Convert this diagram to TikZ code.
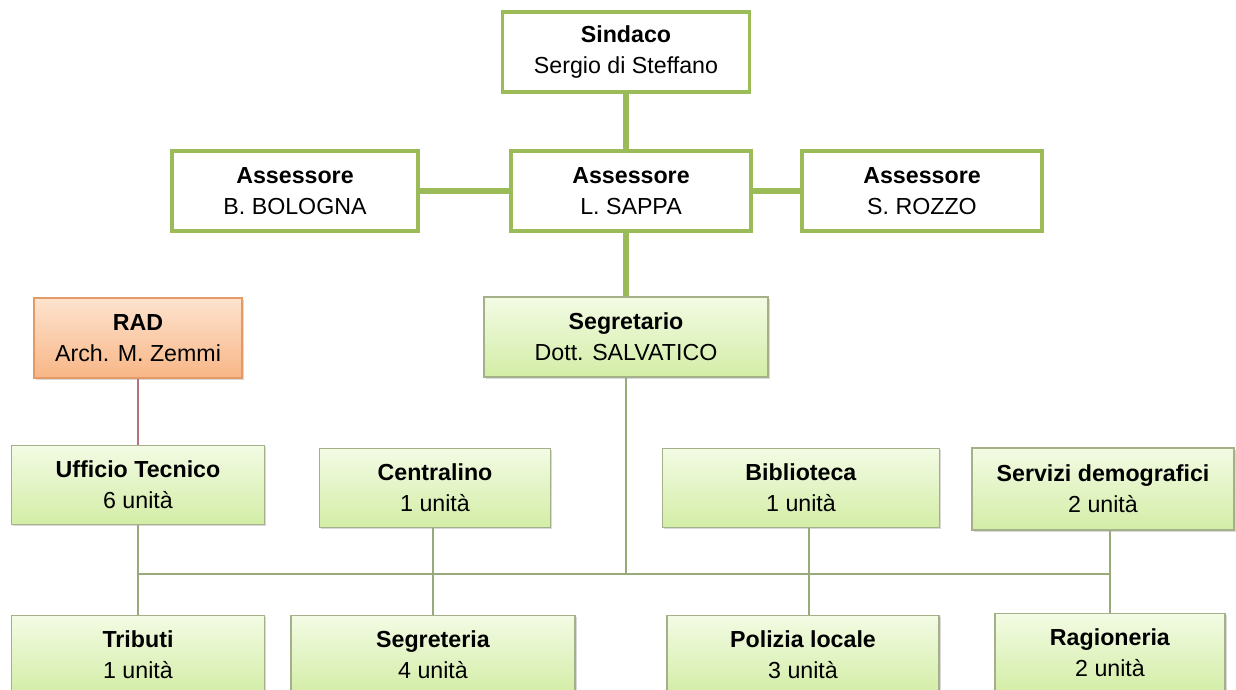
\documentclass[tikz,border=0pt]{standalone}
\usepackage{fontspec}
\setmainfont{Liberation Sans}
\usetikzlibrary{shadows}

\definecolor{officegreen}{HTML}{9BBB59}
\definecolor{linkgreen}{HTML}{98A97A}
\definecolor{unitborder}{HTML}{A3B08A}
\definecolor{unittop}{HTML}{F3FBE4}
\definecolor{unitbottom}{HTML}{D3EDA6}
\definecolor{radtop}{HTML}{FDE3CE}
\definecolor{radbottom}{HTML}{F8B686}
\definecolor{radborder}{HTML}{E39A66}
\definecolor{radlink}{HTML}{B57479}

\begin{document}
\begin{tikzpicture}[x=0.025cm, y=-0.025cm,
    every node/.style={font=\fontsize{16.5}{22}\selectfont, align=center, inner sep=0pt},
    topbox/.style={draw=officegreen, line width=2.2pt, fill=white, minimum height=2cm,
        drop shadow={opacity=0.25, shadow xshift=1pt, shadow yshift=-1pt}},
    unitbox/.style={draw=unitborder, line width=0.8pt, top color=unittop, bottom color=unitbottom,
        minimum height=1.97cm, drop shadow={opacity=0.3, shadow xshift=1.2pt, shadow yshift=-1.2pt}},
    radbox/.style={draw=radborder, line width=0.8pt, top color=radtop, bottom color=radbottom,
        minimum height=2cm, drop shadow={opacity=0.3, shadow xshift=1.2pt, shadow yshift=-1.2pt}},
    biglink/.style={draw=officegreen, line width=3.6pt},
    link/.style={draw=linkgreen, line width=1.6pt},
    radline/.style={draw=radlink, line width=1.2pt}]

    \useasboundingbox (0,0) rectangle (1236,690);
    \clip (0,0) rectangle (1236,690);

    % Sindaco and assessori
    \node[topbox, minimum width=6.175cm] (sindaco) at (626,52) {\textbf{Sindaco}\\Sergio di Steffano};
    \node[topbox, minimum width=6.15cm] (bologna) at (295,191) {\textbf{Assessore}\\B. BOLOGNA};
    \node[topbox, minimum width=6cm] (sappa) at (631,191) {\textbf{Assessore}\\L. SAPPA};
    \node[topbox, minimum width=6cm] (rozzo) at (922,191) {\textbf{Assessore}\\S. ROZZO};

    % RAD and segretario
    \node[radbox, minimum width=5.2cm] (rad) at (138,338) {\textbf{RAD}\\Arch. M. Zemmi};
    \node[unitbox, minimum width=7.1cm, minimum height=2cm] (segretario) at (626,337) {\textbf{Segretario}\\Dott. SALVATICO};

    % Uffici, upper row
    \node[unitbox, minimum width=6.325cm] (tecnico) at (138,485) {\textbf{Ufficio Tecnico}\\6 unità};
    \node[unitbox, minimum width=5.775cm] (centralino) at (435,488) {\textbf{Centralino}\\1 unità};
    \node[unitbox, minimum width=6.925cm] (biblioteca) at (801,488) {\textbf{Biblioteca}\\1 unità};
    \node[unitbox, minimum width=6.55cm, minimum height=2.05cm] (demografici) at (1103,489) {\textbf{Servizi demografici}\\2 unità};

    % Uffici, lower row
    \node[unitbox, minimum width=6.325cm] (tributi) at (138,655) {\textbf{Tributi}\\1 unità};
    \node[unitbox, minimum width=7.1cm] (segreteria) at (433,655) {\textbf{Segreteria}\\4 unità};
    \node[unitbox, minimum width=6.8cm] (polizia) at (803,655) {\textbf{Polizia locale}\\3 unità};
    \node[unitbox, minimum width=5.75cm] (ragioneria) at (1110,653) {\textbf{Ragioneria}\\2 unità};

    \coordinate (bus) at (628,574);

    % Links
    \draw[biglink] (sindaco.south) -- (sindaco.south |- sappa.north);
    \draw[biglink] (bologna.east) -- (sappa.west);
    \draw[biglink] (sappa.east) -- (rozzo.west);
    \draw[biglink] (sappa.south -| sindaco.south) -- (sindaco.south |- segretario.north);
    \draw[radline] (rad.south) -- (tecnico.north);

    \draw[link] (segretario.south) -- (segretario.south |- bus);
    \draw[link] (tributi.north |- bus) -- (ragioneria.north |- bus);
    \draw[link] (tecnico.south) -- (tributi.north);
    \draw[link] (segreteria.north |- centralino.south) -- (segreteria.north);
    \draw[link] ([xshift=0.2cm]biblioteca.south) -- ([xshift=0.2cm]biblioteca.south |- polizia.north);
    \draw[link] (ragioneria.north |- demografici.south) -- (ragioneria.north);
\end{tikzpicture}
\end{document}
